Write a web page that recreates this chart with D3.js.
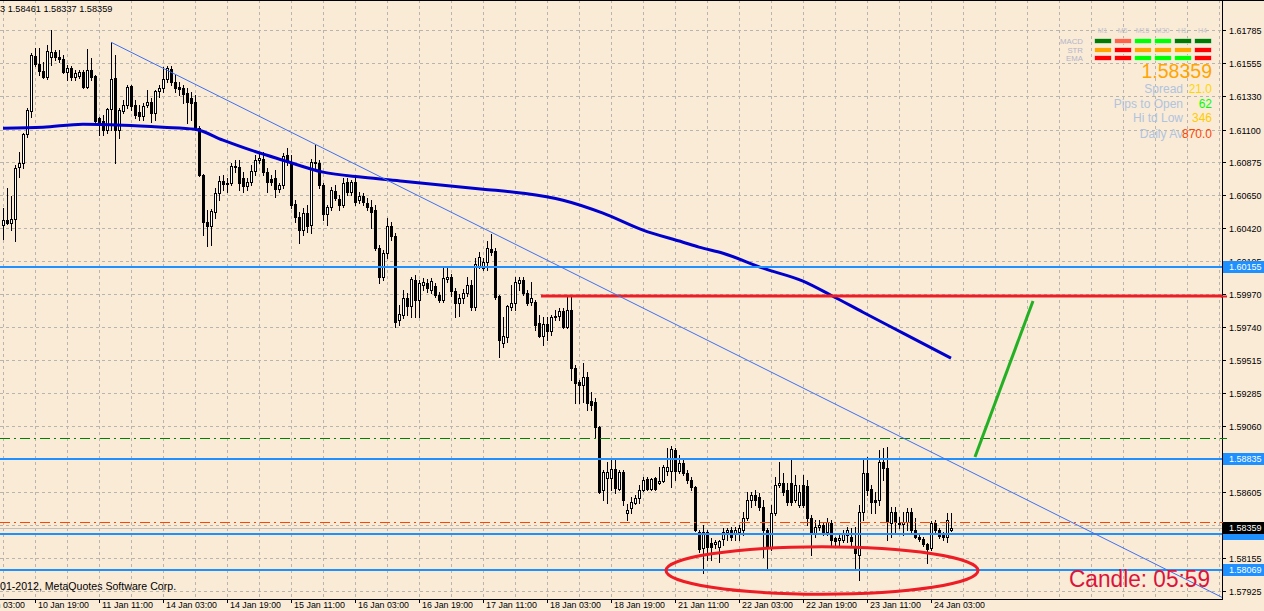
<!DOCTYPE html>
<html><head><meta charset="utf-8">
<script src="https://cdn.jsdelivr.net/npm/d3@7"></script>
<style>html,body{margin:0;padding:0;background:#FAEBD7;overflow:hidden}svg{display:block}</style>
</head><body>
<svg id="chart" width="1264" height="611"></svg>
<script>
// ---------- DATA ----------
const open = [
1.60442,1.60476,1.60456,1.60483,1.60841,1.60869,1.61068,1.61226,1.61605,1.61550,
1.61502,1.61460,1.61598,1.61632,1.61598,1.61584,1.61495,1.61522,1.61460,1.61467,
1.61495,1.61391,1.61508,1.61467,1.61178,1.61158,1.61096,1.61240,1.61453,1.61096,
1.61226,1.61268,1.61398,1.61268,1.61219,1.61192,1.61268,1.61288,1.61213,1.61364,
1.61385,1.61446,1.61515,1.61426,1.61391,1.61385,1.61350,1.61316,1.61288,1.61109,
1.60786,1.60463,1.60435,1.60531,1.60662,1.60745,1.60724,1.60731,1.60848,1.60841,
1.60765,1.60710,1.60738,1.60814,1.60889,1.60896,1.60807,1.60758,1.60765,1.60690,
1.60717,1.60924,1.60875,1.60586,1.60497,1.60408,1.60525,1.60442,1.60869,1.60869,
1.60717,1.60518,1.60566,1.60676,1.60621,1.60580,1.60738,1.60669,1.60738,1.60614,
1.60642,1.60593,1.60566,1.60545,1.60284,1.60084,1.60249,1.60435,1.60366,1.59788,
1.59823,1.59940,1.59885,1.60064,1.59926,1.60029,1.60043,1.59995,1.60022,1.59960,
1.59926,1.60070,1.60084,1.59988,1.59905,1.59940,1.59974,1.60029,1.59878,1.60160,
1.60146,1.60187,1.60277,1.60263,1.59954,1.59630,1.59671,1.59878,1.59905,1.60043,
1.60064,1.59974,1.59912,1.59912,1.59768,1.59678,1.59761,1.59713,1.59809,1.59816,
1.59850,1.59740,1.59857,1.59458,1.59362,1.59341,1.59396,1.59231,1.59224,1.59052,
1.58619,1.58701,1.58701,1.58763,1.58626,1.58743,1.58461,1.58495,1.58529,1.58564,
1.58619,1.58694,1.58626,1.58701,1.58667,1.58681,1.58750,1.58750,1.58894,1.58750,
1.58805,1.58736,1.58688,1.58639,1.58330,1.58220,1.58330,1.58254,1.58247,1.58227,
1.58282,1.58330,1.58344,1.58323,1.58330,1.58344,1.58426,1.58550,1.58584,1.58571,
1.58502,1.58344,1.58220,1.58461,1.58653,1.58667,1.58619,1.58667,1.58550,1.58516,
1.58653,1.58646,1.58426,1.58316,1.58364,1.58378,1.58330,1.58392,1.58289,1.58275,
1.58275,1.58309,1.58295,1.58220,1.58172,1.58467,1.58736,1.58626,1.58550,1.58550,
1.58811,1.58770,1.58392,1.58467,1.58385,1.58385,1.58399,1.58467,1.58344,1.58295,
1.58282,1.58247,1.58220,1.58392,1.58344,1.58309,1.58295,1.58343];
const high = [
1.60559,1.60697,1.60642,1.60855,1.60944,1.61075,1.61247,1.61625,1.61660,1.61660,
1.61563,1.61680,1.61784,1.61646,1.61646,1.61612,1.61543,1.61536,1.61508,1.61508,
1.61508,1.61653,1.61591,1.61474,1.61185,1.61199,1.61247,1.61701,1.61612,1.61247,
1.61302,1.61405,1.61405,1.61302,1.61268,1.61281,1.61371,1.61316,1.61371,1.61405,
1.61529,1.61536,1.61536,1.61474,1.61426,1.61405,1.61385,1.61357,1.61336,1.61123,
1.60793,1.60545,1.60552,1.60697,1.60779,1.60786,1.60765,1.60869,1.60889,1.60889,
1.60807,1.60765,1.60855,1.60924,1.60944,1.60944,1.60834,1.60786,1.60820,1.60731,
1.60937,1.60972,1.60924,1.60614,1.60531,1.60559,1.60580,1.60896,1.60992,1.60889,
1.60731,1.60580,1.60703,1.60717,1.60648,1.60765,1.60765,1.60752,1.60786,1.60669,
1.60662,1.60628,1.60614,1.60580,1.60304,1.60270,1.60490,1.60463,1.60387,1.59892,
1.59995,1.59974,1.60084,1.60098,1.60064,1.60077,1.60070,1.60077,1.60043,1.59981,
1.60160,1.60160,1.60105,1.60009,1.59967,1.60002,1.60084,1.60064,1.60215,1.60256,
1.60215,1.60332,1.60380,1.60284,1.59960,1.59809,1.59892,1.60029,1.60084,1.60084,
1.60084,1.59995,1.60050,1.59926,1.59823,1.59809,1.59809,1.59823,1.59857,1.59871,
1.59871,1.59947,1.59947,1.59479,1.59376,1.59493,1.59431,1.59293,1.59252,1.59059,
1.58756,1.58811,1.58825,1.58825,1.58756,1.58756,1.58522,1.58571,1.58584,1.58653,
1.58708,1.58708,1.58701,1.58708,1.58777,1.58791,1.58908,1.58922,1.58908,1.58860,
1.58839,1.58756,1.58708,1.58646,1.58344,1.58378,1.58344,1.58289,1.58275,1.58275,
1.58357,1.58357,1.58364,1.58364,1.58378,1.58467,1.58605,1.58605,1.58619,1.58598,
1.58550,1.58357,1.58516,1.58708,1.58811,1.58736,1.58667,1.58825,1.58722,1.58653,
1.58722,1.58688,1.58447,1.58412,1.58412,1.58399,1.58426,1.58412,1.58295,1.58309,
1.58344,1.58364,1.58357,1.58364,1.58516,1.58825,1.58846,1.58653,1.58605,1.58894,
1.58908,1.58915,1.58502,1.58502,1.58433,1.58467,1.58495,1.58495,1.58426,1.58309,
1.58295,1.58254,1.58406,1.58412,1.58357,1.58330,1.58461,1.58461];
const low = [
1.60346,1.60449,1.60408,1.60332,1.60772,1.60834,1.61047,1.61185,1.61536,1.61474,
1.61453,1.61446,1.61543,1.61577,1.61563,1.61488,1.61440,1.61440,1.61440,1.61453,
1.61385,1.61385,1.61440,1.61144,1.61061,1.61061,1.61075,1.61096,1.60869,1.61041,
1.61213,1.61247,1.61233,1.61178,1.61164,1.61164,1.61254,1.61151,1.61164,1.61323,
1.61357,1.61426,1.61405,1.61357,1.61336,1.61281,1.61144,1.61164,1.61096,1.60779,
1.60373,1.60298,1.60304,1.60490,1.60614,1.60683,1.60669,1.60717,1.60807,1.60683,
1.60669,1.60683,1.60717,1.60786,1.60869,1.60786,1.60669,1.60717,1.60635,1.60669,
1.60697,1.60855,1.60559,1.60463,1.60318,1.60373,1.60394,1.60387,1.60834,1.60697,
1.60476,1.60442,1.60545,1.60614,1.60545,1.60566,1.60648,1.60648,1.60580,1.60593,
1.60580,1.60545,1.60421,1.60270,1.60043,1.60064,1.60215,1.60339,1.59740,1.59754,
1.59802,1.59823,1.59809,1.59809,1.59809,1.59995,1.59981,1.59974,1.59947,1.59912,
1.59912,1.60050,1.59954,1.59809,1.59816,1.59905,1.59954,1.59857,1.59857,1.60146,
1.60132,1.60132,1.60236,1.59933,1.59534,1.59603,1.59637,1.59857,1.59857,1.59995,
1.59960,1.59892,1.59892,1.59720,1.59671,1.59616,1.59651,1.59685,1.59788,1.59788,
1.59733,1.59733,1.59376,1.59217,1.59217,1.59224,1.59169,1.59169,1.58983,1.58598,
1.58550,1.58529,1.58619,1.58598,1.58619,1.58516,1.58412,1.58461,1.58522,1.58529,
1.58612,1.58619,1.58619,1.58619,1.58660,1.58674,1.58722,1.58639,1.58688,1.58736,
1.58722,1.58667,1.58619,1.58337,1.58192,1.58048,1.58137,1.58137,1.58220,1.58123,
1.58240,1.58275,1.58275,1.58275,1.58275,1.58309,1.58412,1.58502,1.58516,1.58481,
1.58158,1.58082,1.58206,1.58447,1.58639,1.58584,1.58516,1.58516,1.58536,1.58502,
1.58502,1.58378,1.58172,1.58295,1.58344,1.58309,1.58309,1.58240,1.58240,1.58240,
1.58261,1.58261,1.58240,1.58068,1.58000,1.58412,1.58584,1.58461,1.58461,1.58516,
1.58688,1.58275,1.58295,1.58323,1.58357,1.58309,1.58344,1.58330,1.58289,1.58268,
1.58234,1.58117,1.58206,1.58323,1.58289,1.58275,1.58261,1.58337];
const close = [
1.60476,1.60456,1.60483,1.60834,1.60869,1.61068,1.61233,1.61612,1.61550,1.61502,
1.61460,1.61639,1.61632,1.61598,1.61584,1.61495,1.61522,1.61460,1.61488,1.61495,
1.61391,1.61508,1.61460,1.61158,1.61151,1.61096,1.61240,1.61446,1.61096,1.61233,
1.61268,1.61391,1.61261,1.61199,1.61192,1.61261,1.61288,1.61213,1.61364,1.61385,
1.61446,1.61522,1.61426,1.61385,1.61378,1.61343,1.61288,1.61281,1.61109,1.60786,
1.60463,1.60435,1.60538,1.60662,1.60745,1.60724,1.60731,1.60848,1.60841,1.60731,
1.60710,1.60738,1.60814,1.60889,1.60903,1.60807,1.60738,1.60738,1.60690,1.60717,
1.60917,1.60875,1.60580,1.60497,1.60408,1.60525,1.60435,1.60875,1.60875,1.60717,
1.60518,1.60566,1.60683,1.60628,1.60580,1.60731,1.60669,1.60738,1.60600,1.60642,
1.60600,1.60566,1.60531,1.60284,1.60084,1.60249,1.60435,1.60366,1.59775,1.59830,
1.59940,1.59885,1.60070,1.59926,1.60043,1.60050,1.60009,1.60057,1.59960,1.59926,
1.60077,1.60084,1.59988,1.59905,1.59940,1.59974,1.60029,1.59878,1.60174,1.60222,
1.60187,1.60284,1.60256,1.59947,1.59651,1.59678,1.59885,1.59905,1.60050,1.60064,
1.59974,1.59905,1.59940,1.59754,1.59678,1.59761,1.59713,1.59809,1.59816,1.59850,
1.59740,1.59857,1.59458,1.59355,1.59341,1.59396,1.59217,1.59204,1.59052,1.58605,
1.58743,1.58743,1.58763,1.58633,1.58743,1.58550,1.58481,1.58536,1.58564,1.58619,
1.58688,1.58626,1.58694,1.58626,1.58681,1.58777,1.58777,1.58901,1.58750,1.58805,
1.58736,1.58688,1.58639,1.58344,1.58213,1.58330,1.58227,1.58227,1.58261,1.58268,
1.58330,1.58344,1.58295,1.58344,1.58357,1.58426,1.58550,1.58584,1.58550,1.58502,
1.58344,1.58220,1.58461,1.58653,1.58667,1.58605,1.58536,1.58536,1.58653,1.58605,
1.58516,1.58426,1.58330,1.58364,1.58378,1.58330,1.58399,1.58275,1.58268,1.58289,
1.58323,1.58344,1.58268,1.58185,1.58467,1.58736,1.58619,1.58536,1.58536,1.58811,
1.58770,1.58399,1.58467,1.58399,1.58392,1.58399,1.58467,1.58344,1.58295,1.58282,
1.58247,1.58213,1.58392,1.58344,1.58302,1.58295,1.58412,1.58359];

// moving average (sampled at these bars)
const maBars = [0,10,20,30,40,48,55,62,70,80,90,100,110,120,130,140,150,160,170,174,180,190,200,207,215,225,237];
const maValues = [1.61109,1.61116,1.61137,1.61130,1.61116,1.61102,1.61027,1.60958,1.60889,1.60807,1.60772,1.60745,1.60717,1.60690,1.60662,1.60614,1.60525,1.60408,1.60325,1.60291,1.60249,1.60146,1.60057,1.59960,1.59843,1.59699,1.59527];

// price-axis ticks (labels hidden under level boxes are left empty, as in the reference)
const yTickValues = [1.61785,1.61555,1.61330,1.61100,1.60875,1.60650,1.60420,1.60195,1.59970,1.59740,1.59515,1.59285,1.59060,1.58835,1.58605,1.58380,1.58155,1.57925];
const yTickLabels = ["1.61785","1.61555","1.61330","1.61100","1.60875","1.60650","1.60420","1.60195","1.59970","1.59740","1.59515","1.59285","1.59060","","1.58605","","1.58155","1.57925"];
// time-axis labels
const timeLabelBars = [-8,8,24,40,56,72,88,104,120,136,152,168,184,200,216,232];
const timeLabels = ["10 Jan 03:00","10 Jan 19:00","11 Jan 11:00","14 Jan 03:00","14 Jan 19:00","15 Jan 11:00","16 Jan 03:00","16 Jan 19:00","17 Jan 11:00","18 Jan 03:00","18 Jan 19:00","21 Jan 11:00","22 Jan 03:00","22 Jan 19:00","23 Jan 11:00","24 Jan 03:00"];

// chart objects
const blueLevels = [1.60155, 1.58835, 1.58318, 1.58069];
const blueLevelLabels = ["1.60155","1.58835","","1.58069"];
const redLevel = 1.59955, redLevelStartBar = 134.5;
const greenLevel = 1.58976;
const orangeLevel = 1.58398;
const bidPrice = 1.58359, bidLabel = "1.58359";
const trendBars = [27, 237], trendPrices = [1.61701, 1.58813];
const arrowBars = [243, 257.5], arrowPrices = [1.58847, 1.59920];
const ellipseCenterBar = 204.75, ellipseCenterPrice = 1.58066, ellipseHalfBars = 39, ellipseHalfPrice = 0.00163;

// header / panel texts
const headerText = "3 1.58461 1.58337 1.58359";
const copyrightText = "01-2012, MetaQuotes Software Corp.";
const candleText = "Candle:  05:59";
const tfNames = ["M1","M5","M15","M30","H1","H4"];
const sigRows = ["MACD","STR","EMA"];
const sigMACD = [1,-1,2,2,1,1];
const sigSTR = [0,-2,0,0,0,-2];
const sigEMA = [-2,-2,2,2,2,-2];
const bigPrice = "1.58359";
const infoLabels = ["Spread","Pips to Open","Hi td Low","Daily Av"];
const infoValues = ["21.0","62","346","870.0"];

// ---------- DRAW ----------
const svg = d3.select("#chart");
const W = 1264, H = 611, PR = 1222, PB = 599;
const FONT = "'Liberation Sans', Arial, sans-serif";
const x = d3.scaleLinear().domain([0, 237]).range([3, 951]);
const y = d3.scaleLinear().domain([1.57925, 1.61785]).range([591, 30]);
const py = v => Math.round(y(v));

svg.append("rect").attr("width", W).attr("height", H).attr("fill", "#FAEBD7");
svg.append("defs").append("clipPath").attr("id", "plot")
  .append("rect").attr("x", 0).attr("y", 0).attr("width", PR).attr("height", PB);

const plot = svg.append("g").attr("clip-path", "url(#plot)");

// grid
const gridCol = "#b8b4ae";
const vBars = d3.range(0, 310, 8);
plot.append("g").selectAll("line").data(vBars).join("line")
  .attr("x1", d => Math.round(x(d)) + 0.5).attr("x2", d => Math.round(x(d)) + 0.5)
  .attr("y1", 0).attr("y2", PB)
  .attr("stroke", gridCol).attr("stroke-dasharray", "3,3").attr("stroke-width", 1);
plot.append("g").selectAll("line").data(yTickValues).join("line")
  .attr("x1", 0).attr("x2", PR)
  .attr("y1", d => py(d) + 0.5).attr("y2", d => py(d) + 0.5)
  .attr("stroke", gridCol).attr("stroke-dasharray", "3,3").attr("stroke-width", 1);

// bid line
plot.append("line").attr("x1", 0).attr("x2", PR)
  .attr("y1", py(bidPrice) + 0.5).attr("y2", py(bidPrice) + 0.5)
  .attr("stroke", "#c0c0c0").attr("stroke-width", 1);

// candles
const idx = d3.range(open.length);
const cg = plot.append("g");
cg.selectAll("line").data(idx).join("line")
  .attr("x1", i => Math.round(x(i)) + 0.5).attr("x2", i => Math.round(x(i)) + 0.5)
  .attr("y1", i => py(high[i])).attr("y2", i => py(low[i]) + 1)
  .attr("stroke", "#000").attr("stroke-width", 1);
cg.selectAll("rect").data(idx).join("rect")
  .attr("x", i => Math.round(x(i)) - 0.5)
  .attr("y", i => Math.min(py(open[i]), py(close[i])) + 0.5)
  .attr("width", 2)
  .attr("height", i => Math.max(1, Math.abs(py(open[i]) - py(close[i]))))
  .attr("fill", i => close[i] >= open[i] ? "#fff" : "#000")
  .attr("stroke", "#000").attr("stroke-width", 1);

// moving average
plot.append("path").datum(maBars.map((b, k) => [b, maValues[k]]))
  .attr("d", d3.line().x(d => x(d[0])).y(d => y(d[1])).curve(d3.curveMonotoneX))
  .attr("fill", "none").attr("stroke", "#0000CD").attr("stroke-width", 3);

// horizontal levels
plot.selectAll(".bl").data(blueLevels).join("line").attr("class", "bl")
  .attr("x1", 0).attr("x2", PR).attr("y1", d => py(d)).attr("y2", d => py(d))
  .attr("stroke", "#1E90FF").attr("stroke-width", 2);
plot.append("line").attr("x1", 0).attr("x2", PR)
  .attr("y1", py(greenLevel) + 0.5).attr("y2", py(greenLevel) + 0.5)
  .attr("stroke", "#008000").attr("stroke-width", 1).attr("stroke-dasharray", "10,4,2,4");
plot.append("line").attr("x1", 0).attr("x2", PR)
  .attr("y1", py(orangeLevel) + 0.5).attr("y2", py(orangeLevel) + 0.5)
  .attr("stroke", "#FF4500").attr("stroke-width", 1).attr("stroke-dasharray", "10,4,2,4");
plot.append("line").attr("x1", x(redLevelStartBar)).attr("x2", PR)
  .attr("y1", y(redLevel)).attr("y2", y(redLevel))
  .attr("stroke", "#EE1C25").attr("stroke-width", 3);

// trend line (ray)
{
  const x0 = x(trendBars[0]), y0 = y(trendPrices[0]);
  const x1 = x(trendBars[1]), y1 = y(trendPrices[1]);
  const s = (y1 - y0) / (x1 - x0);
  const xe = PR + 10;
  plot.append("line").attr("x1", x0).attr("y1", y0).attr("x2", xe).attr("y2", y0 + s * (xe - x0))
    .attr("stroke", "#3F6FEF").attr("stroke-width", 1);
}
// green arrow line
plot.append("line")
  .attr("x1", x(arrowBars[0])).attr("y1", y(arrowPrices[0]))
  .attr("x2", x(arrowBars[1])).attr("y2", y(arrowPrices[1]))
  .attr("stroke", "#24B024").attr("stroke-width", 3);
// ellipse
plot.append("ellipse")
  .attr("cx", x(ellipseCenterBar)).attr("cy", y(ellipseCenterPrice))
  .attr("rx", x(ellipseHalfBars) - x(0))
  .attr("ry", y(ellipseCenterPrice) - y(ellipseCenterPrice + ellipseHalfPrice))
  .attr("fill", "none").attr("stroke", "#EE1C25").attr("stroke-width", 3);

// border lines / axes
svg.append("line").attr("x1", 0).attr("x2", W).attr("y1", 0.5).attr("y2", 0.5).attr("stroke", "#000");
svg.append("line").attr("x1", PR + 0.5).attr("x2", PR + 0.5).attr("y1", 0).attr("y2", PB + 1).attr("stroke", "#000");
svg.append("line").attr("x1", 0).attr("x2", PR + 1).attr("y1", PB + 0.5).attr("y2", PB + 0.5).attr("stroke", "#000");

// y ticks & labels
const yAx = svg.append("g");
yAx.selectAll("line").data(yTickValues).join("line")
  .attr("x1", PR).attr("x2", PR + 4).attr("y1", d => py(d) + 0.5).attr("y2", d => py(d) + 0.5)
  .attr("stroke", "#000");
yAx.selectAll("text").data(yTickValues.filter((d, k) => yTickLabels[k] !== "")).join("text")
  .attr("x", PR + 7).attr("y", d => py(d) + 0.5).attr("dy", "0.35em")
  .attr("font-family", FONT).attr("font-size", 9).attr("fill", "#000")
  .text(d => yTickLabels[yTickValues.indexOf(d)]);

// colored ticks for levels
[[redLevel, "#EE1C25", 2], [greenLevel, "#008000", 1], [orangeLevel, "#FF4500", 1]].forEach(([v, c, w]) => {
  svg.append("line").attr("x1", PR - 1).attr("x2", PR + 5).attr("y1", py(v) + 0.5).attr("y2", py(v) + 0.5)
    .attr("stroke", c).attr("stroke-width", w);
});

// level label boxes
function priceBox(v, label, bg) {
  const cy = y(v);
  svg.append("rect").attr("x", PR + 1).attr("y", Math.round(cy) - 6).attr("width", W - PR - 1).attr("height", 12).attr("fill", bg);
  if (label) svg.append("text").attr("x", PR + 7).attr("y", Math.round(cy)).attr("dy", "0.35em")
    .attr("font-family", FONT).attr("font-size", 9).attr("fill", "#fff").text(label);
}
priceBox(blueLevels[0], blueLevelLabels[0], "#1E90FF");
priceBox(blueLevels[1], blueLevelLabels[1], "#1E90FF");
priceBox(blueLevels[3], blueLevelLabels[3], "#1E90FF");
priceBox(blueLevels[2], blueLevelLabels[2], "#1E90FF");
priceBox(bidPrice, bidLabel, "#000");

// x ticks & labels
const xAx = svg.append("g");
xAx.selectAll("line").data(timeLabelBars).join("line")
  .attr("x1", d => Math.round(x(d)) + 0.5).attr("x2", d => Math.round(x(d)) + 0.5)
  .attr("y1", PB).attr("y2", PB + 4).attr("stroke", "#000");
xAx.selectAll("text").data(timeLabelBars).join("text")
  .attr("x", d => Math.round(x(d)) + 3).attr("y", 608)
  .attr("font-family", FONT).attr("font-size", 8.5).attr("fill", "#000")
  .attr("textLength", 51).attr("lengthAdjust", "spacingAndGlyphs")
  .text((d, k) => timeLabels[k]);

// header & copyright
svg.append("text").attr("x", 0).attr("y", 12).attr("font-family", FONT).attr("font-size", 9.2).attr("fill", "#000").text(headerText);
svg.append("text").attr("x", 0).attr("y", 590).attr("font-family", FONT).attr("font-size", 10.6).attr("fill", "#000").text(copyrightText);

// candle timer
svg.append("text").attr("x", 1069).attr("y", 587).attr("font-family", FONT).attr("font-size", 23)
  .attr("fill", "#DC143C").attr("textLength", 141).attr("lengthAdjust", "spacingAndGlyphs").text(candleText);

// signal panel
const colX = d3.range(6).map(k => 1094 + 20 * k);
const rowY = [38, 47, 55];
const sigColor = s => ({"2": "#00FF00", "1": "#007A00", "0": "#FFA500", "-1": "#FF6347", "-2": "#FF0000"})[String(s)];
svg.append("g").selectAll("text").data(tfNames).join("text")
  .attr("x", (d, k) => colX[k] + 8.5).attr("y", 33).attr("text-anchor", "middle")
  .attr("font-family", FONT).attr("font-size", 7).attr("fill", "#c4c4cc").text(d => d);
svg.append("g").selectAll("text").data(sigRows).join("text")
  .attr("x", 1083).attr("y", (d, k) => rowY[k] + 5.5).attr("text-anchor", "end")
  .attr("font-family", FONT).attr("font-size", 7.8).attr("fill", "#b4b4c8").text(d => d);
[sigMACD, sigSTR, sigEMA].forEach((row, r) => {
  svg.append("g").selectAll("rect").data(row).join("rect")
    .attr("x", (d, k) => colX[k] + 0.5).attr("y", rowY[r] + 0.5).attr("width", 17).attr("height", 5)
    .attr("fill", d => sigColor(d)).attr("stroke", "#fff").attr("stroke-opacity", 0.55).attr("stroke-width", 1);
});
svg.append("text").attr("x", 1212).attr("y", 78).attr("text-anchor", "end")
  .attr("font-family", FONT).attr("font-size", 19.5).attr("fill", "#FFA500").text(bigPrice);
const infoY = [92.5, 107.5, 122.3, 137.5];
const infoCol = ["#FFD700", "#00FF00", "#FFCC00", "#FF4500"];
svg.append("g").selectAll("text").data(infoLabels).join("text")
  .attr("x", 1183).attr("y", (d, k) => infoY[k]).attr("text-anchor", "end")
  .attr("font-family", FONT).attr("font-size", 12).attr("fill", "#B0C4DE").text(d => d);
svg.append("g").selectAll("text").data(infoValues).join("text")
  .attr("x", 1212).attr("y", (d, k) => infoY[k]).attr("text-anchor", "end")
  .attr("font-family", FONT).attr("font-size", 12).attr("fill", (d, k) => infoCol[k]).text(d => d);
</script>
</body></html>
